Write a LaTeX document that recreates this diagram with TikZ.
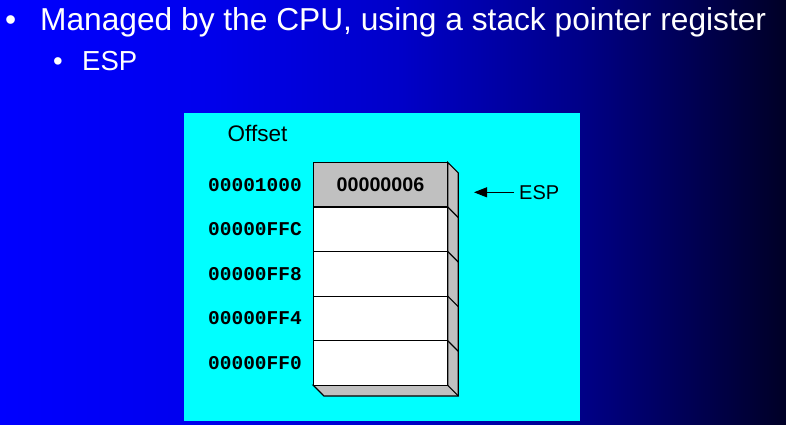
\documentclass[tikz,border=0pt]{standalone}
\usepackage{fontspec}
\setmainfont{Liberation Sans}
\newfontfamily\codefont{Liberation Mono}
\usetikzlibrary{arrows.meta}

\definecolor{bgA}{RGB}{0,0,255}
\definecolor{bgB}{RGB}{0,0,238}
\definecolor{bgC}{RGB}{0,0,200}
\definecolor{bgD}{RGB}{0,0,135}
\definecolor{bgE}{RGB}{0,0,38}
\definecolor{panel}{RGB}{0,255,255}
\definecolor{cellgray}{RGB}{192,192,192}

% slide background: blue fading to navy towards the right
% (TikZ maps the path onto the 25bp--75bp band of the shading)
\pgfdeclarehorizontalshading{slidebg}{100bp}{%
  color(0bp)=(bgA); color(25bp)=(bgA); color(37.5bp)=(bgB); color(50.5bp)=(bgC);
  color(62bp)=(bgD); color(75bp)=(bgE); color(100bp)=(bgE)}

\tikzset{
  cell/.style={draw=black, line width=1.2pt, fill=white, minimum width=134.4pt,
    minimum height=44.6pt, inner sep=0pt, outer sep=0pt, anchor=north west},
  addr/.style={font=\codefont\bfseries\fontsize{19.5}{21}\selectfont, anchor=east, inner sep=0pt},
  side/.style={draw=black, line width=1.2pt, fill=cellgray, line join=miter},
  bullettext/.style={text=white, anchor=base west, inner sep=0pt}
}

\begin{document}
\begin{tikzpicture}[x=1pt, y=-1pt]
\useasboundingbox (0,0) rectangle (786,424);
\shade[shading=slidebg] (0,0) rectangle (786,424);

% heading bullets
\node[bullettext, font=\fontsize{31.7}{34}\selectfont] (b1) at (5,30) {•};
\node[bullettext, font=\fontsize{31.7}{34}\selectfont] (t1) at (40,30) {Managed by the CPU, using a stack pointer register};
\node[bullettext, font=\fontsize{27.5}{30}\selectfont] (b2) at (53,70.7) {•};
\node[bullettext, font=\fontsize{27.5}{30}\selectfont] (t2) at (82,70.7) {ESP};

% cyan panel
\fill[panel] (184,113) rectangle (580,421);
\node[font=\fontsize{22.5}{25}\selectfont, inner sep=0pt] (offset) at (257.5,133) {Offset};

% 3-D side faces of the stack
\def\dx{10.6}
\path[side] (447.7,162.3) -- ++(\dx,\dx) -- (458.3,396) -- (323.9,396)
  -- (313.3,385.3) -- (447.7,385.3) -- cycle;

% stack cells
\node[cell, fill=cellgray, font=\bfseries\fontsize{19.7}{22}\selectfont] (r0) at (313.3,162.3) {00000006};
\node[cell] (r1) at (r0.south west) {};
\node[cell] (r2) at (r1.south west) {};
\node[cell] (r3) at (r2.south west) {};
\node[cell] (r4) at (r3.south west) {};

% edges of the side faces at each cell boundary
\foreach \r in {r1,r2,r3,r4}
  \draw[line width=1.2pt] (\r.north east) -- ++(\dx,\dx);
\draw[line width=1.2pt] (r4.south east) -- ++(\dx,\dx);

% offsets, right-aligned in one column
\coordinate (acol) at (302,0);
\node[addr] (a0) at (r0.center -| acol) {00001000};
\node[addr] (a1) at (r1.center -| acol) {00000FFC};
\node[addr] (a2) at (r2.center -| acol) {00000FF8};
\node[addr] (a3) at (r3.center -| acol) {00000FF4};
\node[addr] (a4) at (r4.center -| acol) {00000FF0};

% stack pointer marker
\node[font=\fontsize{20}{23}\selectfont, anchor=west, inner sep=0pt] (esp) at (519,192.3) {ESP};
\coordinate (tip) at (474,192.3);
\draw[line width=1pt, -{Triangle[length=13pt,width=10pt]}] ([xshift=-5pt]esp.west) -- (tip);
\end{tikzpicture}
\end{document}
